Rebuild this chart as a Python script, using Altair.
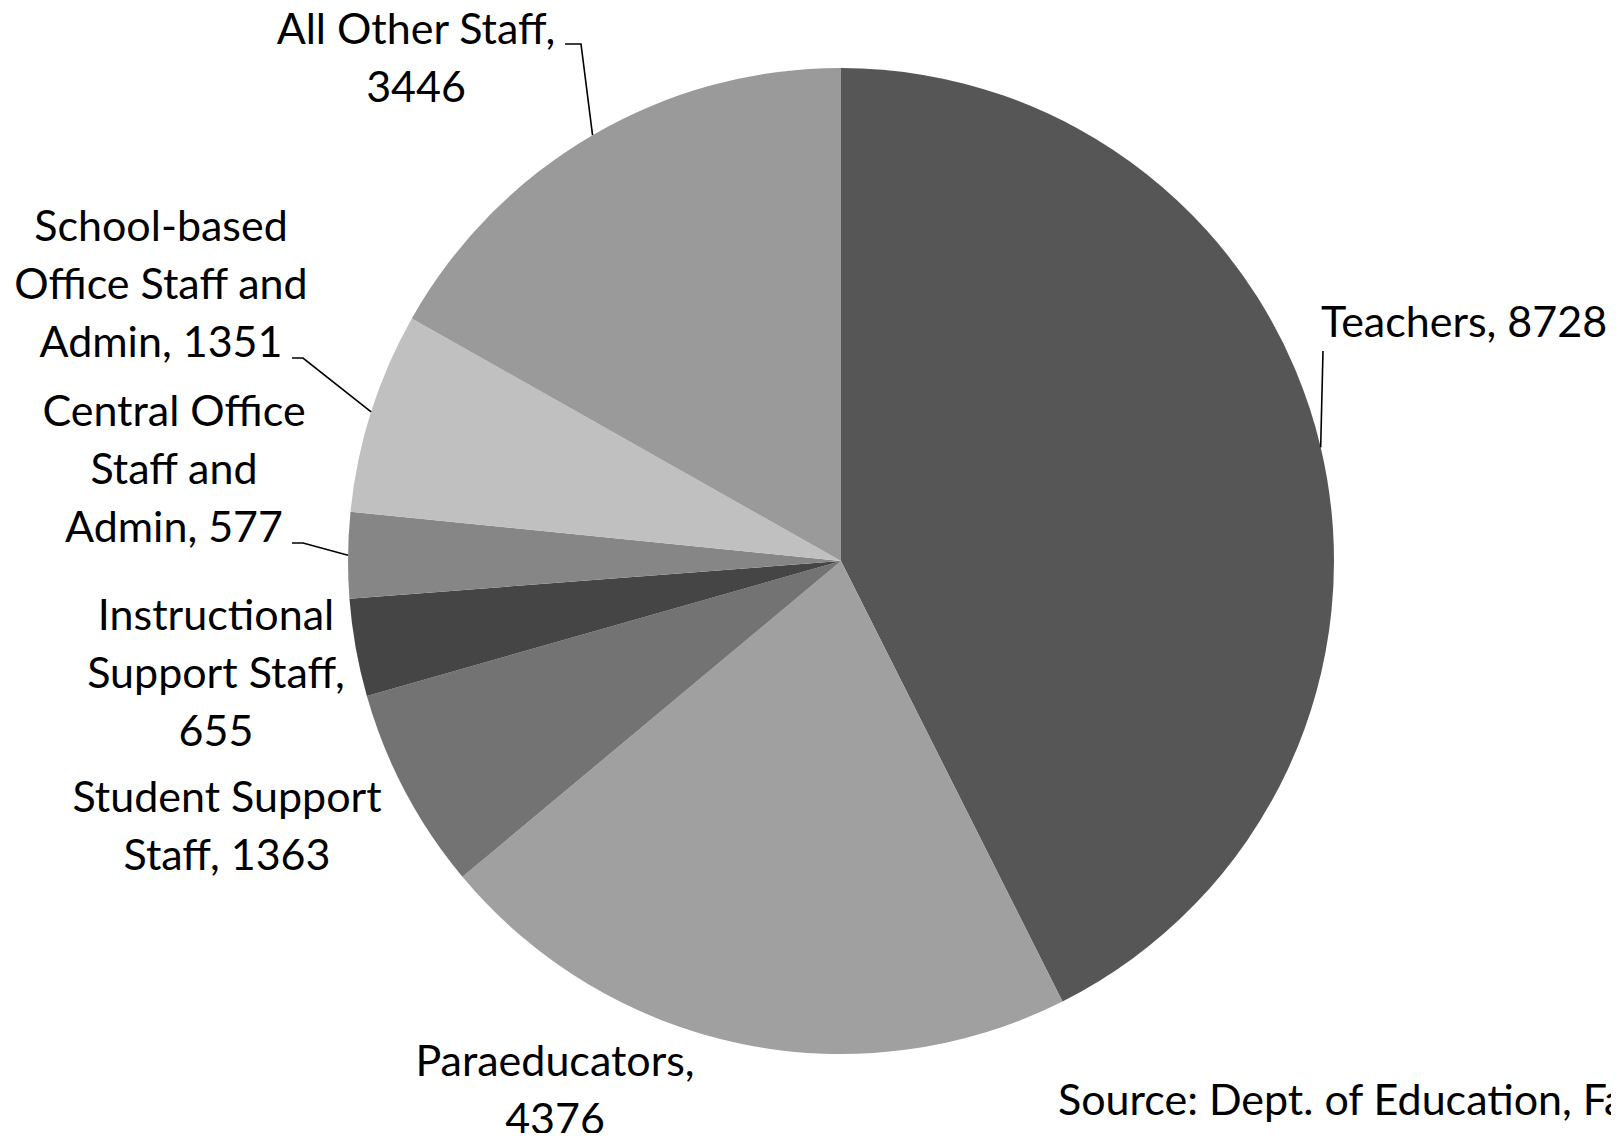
import math
import altair as alt
import pandas as pd

# ---- data -------------------------------------------------------------
categories = [
    "Teachers",
    "Paraeducators",
    "Student Support Staff",
    "Instructional Support Staff",
    "Central Office Staff and Admin",
    "School-based Office Staff and Admin",
    "All Other Staff",
]
values = [8728, 4376, 1363, 655, 577, 1351, 3446]
slice_colors = ["#565656", "#a0a0a0", "#737373", "#454545", "#868686", "#c0c0c0", "#9a9a9a"]

# label text, broken into lines as in the original
label_lines = [
    ["Teachers, 8728"],
    ["Paraeducators,", "4376"],
    ["Student Support", "Staff, 1363"],
    ["Instructional", "Support Staff,", "655"],
    ["Central Office", "Staff and", "Admin, 577"],
    ["School-based", "Office Staff and", "Admin, 1351"],
    ["All Other Staff,", "3446"],
]
source_text = "Source: Dept. of Education, Fairfax County"

# ---- layout (page pixel coordinates) ---------------------------------
W, H = 1603, 1125
CX, CY, R = 841, 561, 493
FONT = "Lato"
FS = 43
LH = 58
label_x = [1321, 555, 227, 216, 174, 161, 416]
label_y = [324, 1063, 799, 617, 413, 228, 31]   # first line
label_align = ["left", "center", "center", "center", "center", "center", "center"]
# label-side points of leader lines (None = no leader)
leader_pts = [
    [(1323, 351)],
    None,
    None,
    None,
    [(292, 543), (303, 543)],
    [(292, 358), (303, 358)],
    [(565, 44), (581, 44)],
]
source_xy = (1058, 1102)

xscale = alt.Scale(domain=[8, 8 + W], nice=False, zero=False)
yscale = alt.Scale(domain=[8 + H, 8], nice=False, zero=False)

total = sum(values)
pie_df = pd.DataFrame({"name": categories, "value": values, "idx": list(range(len(values)))})

# ---- pie --------------------------------------------------------------
pie = alt.Chart(pie_df).mark_arc(radius=R, strokeWidth=0).encode(
    x=alt.XDatum(CX, scale=xscale, axis=None),
    y=alt.YDatum(CY, scale=yscale, axis=None),
    theta=alt.Theta("value:Q", stack=True),
    order=alt.Order("idx:Q"),
    color=alt.Color("name:N", scale=alt.Scale(domain=categories, range=slice_colors), legend=None),
)

# ---- leader lines (edge end computed from each slice's mid-angle) ----
rows = []
cum = 0
for i, v in enumerate(values):
    mid = (cum + v / 2) / total * 2 * math.pi
    cum += v
    pts = leader_pts[i]
    if not pts:
        continue
    ex = CX + R * math.sin(mid)
    ey = CY - R * math.cos(mid)
    allp = list(pts) + [(ex, ey)]
    for k, (px, py) in enumerate(allp):
        rows.append({"g": categories[i], "k": k, "x": px, "y": py})
lead_df = pd.DataFrame(rows)
leaders = alt.Chart(lead_df).mark_line(color="black", strokeWidth=1.6).encode(
    x=alt.X("x:Q", scale=xscale, axis=None),
    y=alt.Y("y:Q", scale=yscale, axis=None),
    detail="g:N",
    order="k:Q",
)

# ---- labels ----------------------------------------------------------
lab_df = pd.DataFrame({
    "text": ["\n".join(l) for l in label_lines],
    "x": label_x,
    "y": label_y,
    "align": label_align,
})
lab_center = alt.Chart(lab_df[lab_df["align"] == "center"]).mark_text(
    font=FONT, fontSize=FS, lineHeight=LH, align="center", baseline="middle",
    lineBreak="\n", color="black",
).encode(
    x=alt.X("x:Q", scale=xscale, axis=None),
    y=alt.Y("y:Q", scale=yscale, axis=None),
    text="text:N",
)
lab_left = alt.Chart(lab_df[lab_df["align"] == "left"]).mark_text(
    font=FONT, fontSize=FS, lineHeight=LH, align="left", baseline="middle",
    lineBreak="\n", color="black",
).encode(
    x=alt.X("x:Q", scale=xscale, axis=None),
    y=alt.Y("y:Q", scale=yscale, axis=None),
    text="text:N",
)

src_df = pd.DataFrame({"text": [source_text], "x": [source_xy[0]], "y": [source_xy[1]]})
source = alt.Chart(src_df).mark_text(
    font=FONT, fontSize=FS, align="left", baseline="middle", color="black", clip=True,
).encode(
    x=alt.X("x:Q", scale=xscale, axis=None),
    y=alt.Y("y:Q", scale=yscale, axis=None),
    text="text:N",
)

chart = alt.layer(pie, leaders, lab_center, lab_left, source).properties(
    width=W, height=H,
    autosize=alt.AutoSizeParams(type="none"),
    padding=0,
).configure_view(strokeWidth=0, stroke="transparent")

chart.save("out.html", embed_options={"renderer": "svg", "actions": False})
